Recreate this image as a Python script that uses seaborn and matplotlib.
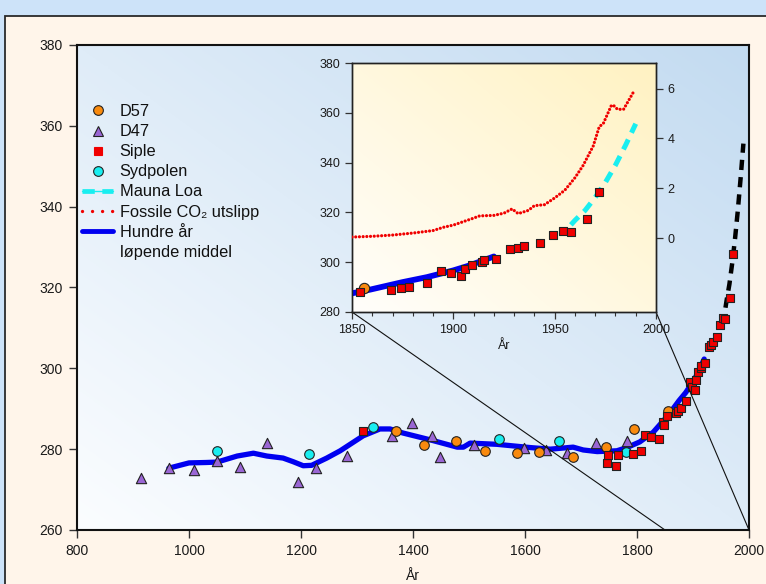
import numpy as np
import pandas as pd
import matplotlib
matplotlib.use("Agg")
import matplotlib.pyplot as plt
import seaborn as sns
from matplotlib.lines import Line2D
from matplotlib.patches import Rectangle, ConnectionPatch
from matplotlib.legend_handler import HandlerLine2D, HandlerTuple
from matplotlib.colors import LinearSegmentedColormap
from matplotlib import font_manager

# ---- ice-core and atmospheric CO2 (ppm) ----
d57_year = [1370, 1420, 1477, 1529, 1586, 1625, 1686, 1745, 1795, 1856]
d57_co2 = [284.5, 281.0, 282.0, 279.5, 279.0, 279.3, 278.0, 280.5, 285.0, 289.5]

d47_year = [914, 964, 1009, 1050, 1091, 1140, 1195, 1227, 1282, 1363, 1398, 1434, 1448,
            1509, 1599, 1638, 1675, 1727, 1782]
d47_co2 = [272.9, 275.3, 274.9, 277.1, 275.7, 281.5, 271.9, 275.4, 278.4, 283.3, 286.5,
           283.3, 278.0, 281.0, 280.2, 279.8, 279.0, 281.5, 282.0]

sydpol_year = [1050, 1214, 1329, 1554, 1661, 1781]
sydpol_co2 = [279.6, 278.8, 285.5, 282.5, 282.0, 279.3]

siple_year = [1311, 1747, 1748, 1763, 1766, 1793, 1807, 1814, 1825, 1840, 1846, 1849,
              1854, 1869, 1874, 1878, 1887, 1894, 1899, 1904, 1906, 1909, 1914, 1915,
              1921, 1928, 1932, 1935, 1943, 1949, 1954, 1958, 1966, 1972]
siple_co2 = [284.5, 276.5, 278.5, 275.8, 278.5, 278.9, 279.6, 283.5, 283.0, 282.5, 286.7,
             286.0, 288.2, 289.0, 289.5, 290.2, 291.8, 296.6, 295.5, 294.6, 297.1, 299.0,
             300.0, 300.7, 301.3, 305.2, 305.7, 306.5, 307.8, 310.8, 312.4, 312.3, 317.5,
             328.2]

mauna_year = [1958, 1960, 1965, 1970, 1975, 1980, 1985, 1990]
mauna_co2 = [315.0, 316.8, 320.8, 326.0, 332.0, 339.0, 347.0, 355.6]

# hundred-year running mean
mean_year = [964, 1000, 1030, 1050, 1086, 1115, 1139, 1168, 1186, 1204, 1219, 1246, 1270,
             1311, 1341, 1359, 1382, 1431, 1479, 1490, 1502, 1550, 1609, 1645, 1686, 1704,
             1729, 1764, 1782, 1805, 1829, 1850, 1859, 1875, 1887, 1900, 1908, 1920]
mean_co2 = [275.3, 276.6, 276.7, 276.8, 278.3, 279.0, 278.3, 277.8, 276.9, 275.9, 276.0,
            277.8, 279.6, 283.3, 285.0, 285.0, 284.0, 282.3, 280.5, 280.5, 281.5, 281.2,
            280.4, 280.0, 280.5, 279.8, 279.4, 279.6, 280.4, 281.8, 284.2, 287.5, 289.0,
            292.0, 294.0, 296.7, 298.7, 302.3]

# fossil CO2 emissions (right inset axis)
fossil_year = [1850, 1860, 1870, 1880, 1890, 1895, 1900, 1905, 1910, 1913, 1920, 1925,
               1929, 1932, 1937, 1940, 1945, 1950, 1955, 1960, 1964, 1969, 1972, 1974,
               1978, 1979, 1981, 1984, 1989]
fossil_val = [0.04, 0.07, 0.12, 0.20, 0.30, 0.43, 0.52, 0.66, 0.80, 0.89, 0.91, 1.00,
              1.17, 0.98, 1.11, 1.30, 1.34, 1.61, 1.92, 2.42, 2.91, 3.69, 4.47, 4.60,
              5.33, 5.33, 5.17, 5.17, 5.88]

main_xticks = [800, 1000, 1200, 1400, 1600, 1800, 2000]
main_yticks = [260, 280, 300, 320, 340, 360, 380]
inset_xticks = [1850, 1900, 1950, 2000]
inset_yticks = [280, 300, 320, 340, 360, 380]
inset_rticks = [0, 2, 4, 6]

C_ORANGE = "#f98a0e"
C_PURPLE = "#9a66d4"
C_RED = "#f00000"
C_CYAN = "#19eef0"
C_BLUE = "#0000f0"

sns.set_style("white")
plt.rcParams["font.family"] = ["Liberation Sans", "DejaVu Sans"]

names = {f.name for f in font_manager.fontManager.ttflist}
narrow = "Liberation Sans Narrow" if "Liberation Sans Narrow" in names else "Liberation Sans"

W, H = 766, 584
fig = plt.figure(figsize=(W / 100, H / 100), dpi=100, facecolor="#cde3f9")

# cream panel behind everything
fig.add_artist(Rectangle((5 / W, -0.05), 1.2, (H - 15.5) / H + 0.05,
                         transform=fig.transFigure, facecolor="#fff5ea",
                         edgecolor="#2a2a2a", lw=1.3, zorder=-20))


def px_axes(x0, y0, x1, y1):
    return [x0 / W, 1 - y1 / H, (x1 - x0) / W, (y1 - y0) / H]


def gradient(ax, c0, c1):
    n = 256
    g = np.linspace(0, 1, n)
    img = (g[None, :] + g[:, None]) / 2.0
    cmap = LinearSegmentedColormap.from_list("bg", [c0, c1])
    ax.imshow(img, cmap=cmap, origin="lower", extent=[0, 1, 0, 1],
              transform=ax.transAxes, aspect="auto", zorder=0,
              interpolation="bilinear")


# ---------------- main axes ----------------
ax = fig.add_axes(px_axes(77, 45, 749, 530))
ax.set_facecolor("none")
gradient(ax, "#fbfdff", "#c3dbf1")

sns.lineplot(x=mean_year, y=mean_co2, ax=ax, color=C_BLUE, lw=3.8, sort=False,
             estimator=None, zorder=3)
ml_main = sns.lineplot(x=mauna_year, y=mauna_co2, ax=ax, color="black", lw=3.2,
                       sort=False, estimator=None, zorder=3)
ml_main.lines[-1].set_dashes([2.3, 1.6])
ml_main.lines[-1].set_dash_capstyle("butt")

sns.scatterplot(x=d47_year, y=d47_co2, ax=ax, marker="^", s=55, color=C_PURPLE,
                edgecolor="#222", linewidth=0.8, zorder=4)
sns.scatterplot(x=sydpol_year, y=sydpol_co2, ax=ax, marker="o", s=48, color=C_CYAN,
                edgecolor="#222", linewidth=0.8, zorder=4)
sns.scatterplot(x=d57_year, y=d57_co2, ax=ax, marker="o", s=48, color=C_ORANGE,
                edgecolor="#222", linewidth=0.8, zorder=4)
sns.scatterplot(x=siple_year, y=siple_co2, ax=ax, marker="s", s=26, color=C_RED,
                edgecolor="#222", linewidth=0.8, zorder=5)

ax.set_xlim(800, 2000)
ax.set_ylim(260, 380)
ax.set_xticks(main_xticks)
ax.set_yticks(main_yticks)
ax.set_xlabel("År", fontsize=10, family=narrow, color="#1a1a1a", labelpad=8)
ax.set_ylabel("")
for s in ax.spines.values():
    s.set_visible(True)
    s.set_color("#111")
    s.set_linewidth(1.5)
ax.tick_params(direction="out", length=6, width=1.0, color="#333",
               labelsize=10, labelcolor="#1a1a1a", pad=4,
               left=True, bottom=True)
for lab in ax.get_xticklabels() + ax.get_yticklabels():
    lab.set_family(narrow)


# legend with markers at the right end of each handle
class RightMarker(HandlerLine2D):
    def get_xdata(self, legend, xdescent, ydescent, width, height, fontsize):
        xdata, _ = super().get_xdata(legend, xdescent, ydescent, width, height, fontsize)
        return xdata, np.array([-xdescent + 0.86 * width])


ml_handle = (Line2D([], [], color=C_CYAN, lw=1.0),
             Line2D([], [], color=C_CYAN, lw=3.4, dashes=[2.6, 1.6],
                    dash_capstyle="butt"))
handles = [
    Line2D([], [], ls="none", marker="o", ms=7, mfc=C_ORANGE, mec="#222", mew=0.8),
    Line2D([], [], ls="none", marker="^", ms=7, mfc=C_PURPLE, mec="#222", mew=0.8),
    Line2D([], [], ls="none", marker="s", ms=5.5, mfc=C_RED, mec=C_RED, mew=0.8),
    Line2D([], [], ls="none", marker="o", ms=7, mfc=C_CYAN, mec="#222", mew=0.8),
    ml_handle,
    Line2D([], [], color=C_RED, lw=2.4, ls=(0, (0.01, 3.0)), dash_capstyle="round"),
    Line2D([], [], color=C_BLUE, lw=3.5),
    Line2D([], [], ls="none"),
]
labels = ["D57", "D47", "Siple", "Sydpolen", "Mauna Loa",
          "Fossile CO\u2082 utslipp", "Hundre år", "løpende middel"]
leg = ax.legend(handles, labels, loc="upper left", bbox_to_anchor=(0.008, 0.878),
                frameon=False, fontsize=11.8, handlelength=1.85, handletextpad=0.42,
                labelspacing=0.31, borderpad=0, borderaxespad=0,
                handler_map={Line2D: RightMarker(), tuple: HandlerTuple(ndivide=1)})
for t in leg.get_texts():
    t.set_color("#111")

# ---------------- inset ----------------
axin = fig.add_axes(px_axes(352, 63, 656, 312))
axin.set_zorder(10)
axin.set_facecolor("none")
gradient(axin, "#fffefb", "#fff2c2")

sns.lineplot(x=mean_year[-7:], y=mean_co2[-7:], ax=axin, color=C_BLUE, lw=4.2,
             sort=False, estimator=None, zorder=3)
ml_in = sns.lineplot(x=mauna_year, y=mauna_co2, ax=axin, color=C_CYAN, lw=3.6,
                     sort=False, estimator=None, zorder=3)
ml_in.lines[-1].set_dashes([2.2, 1.5])
ml_in.lines[-1].set_dash_capstyle("butt")
sns.scatterplot(x=d57_year[-1:], y=d57_co2[-1:], ax=axin, marker="o", s=55,
                color=C_ORANGE, edgecolor="#222", linewidth=0.8, zorder=4)
sns.scatterplot(x=[y for y in siple_year if y >= 1850],
                y=[c for y, c in zip(siple_year, siple_co2) if y >= 1850],
                ax=axin, marker="s", s=30, color=C_RED, edgecolor="#222",
                linewidth=0.8, zorder=5)

axin.set_xlim(1850, 2000)
axin.set_ylim(280, 380)
axin.set_xticks(inset_xticks)
axin.set_xticks(np.arange(1850, 2001, 10), minor=True)
axin.set_yticks(inset_yticks)
axin.set_xlabel("År", fontsize=9, color="#1a1a1a", labelpad=3)
axin.set_ylabel("")
for s in axin.spines.values():
    s.set_visible(True)
    s.set_color("#222")
    s.set_linewidth(1.0)
axin.tick_params(which="both", direction="out", color="#333", labelsize=9,
                 labelcolor="#1a1a1a", left=True, bottom=True)
axin.tick_params(which="major", length=5, width=0.9)
axin.tick_params(which="minor", length=3, width=0.8)

axr = axin.twinx()
sns.lineplot(x=fossil_year, y=fossil_val, ax=axr, color=C_RED, lw=2.3,
             sort=False, estimator=None, zorder=3)
fl = axr.lines[-1]
fl.set_linestyle((0, (0.01, 1.15)))
fl.set_dash_capstyle("round")
axr.set_ylim(-2.97, 7.03)
axr.set_yticks(inset_rticks)
axr.set_ylabel("")
axr.tick_params(direction="out", length=5, width=0.9, color="#333", labelsize=9,
                labelcolor="#1a1a1a", right=True)
for s in axr.spines.values():
    s.set_color("#222")
    s.set_linewidth(1.0)

# lines tying the inset to its span on the main axis
for xa, xb in [(0, 1850), (1, 2000)]:
    cp = ConnectionPatch(xyA=(xa, 0), coordsA=axin.transAxes,
                         xyB=(xb, 260), coordsB=ax.transData,
                         color="#111", lw=0.8, zorder=6)
    fig.add_artist(cp)

fig.savefig("out.png", dpi=100, facecolor=fig.get_facecolor())
